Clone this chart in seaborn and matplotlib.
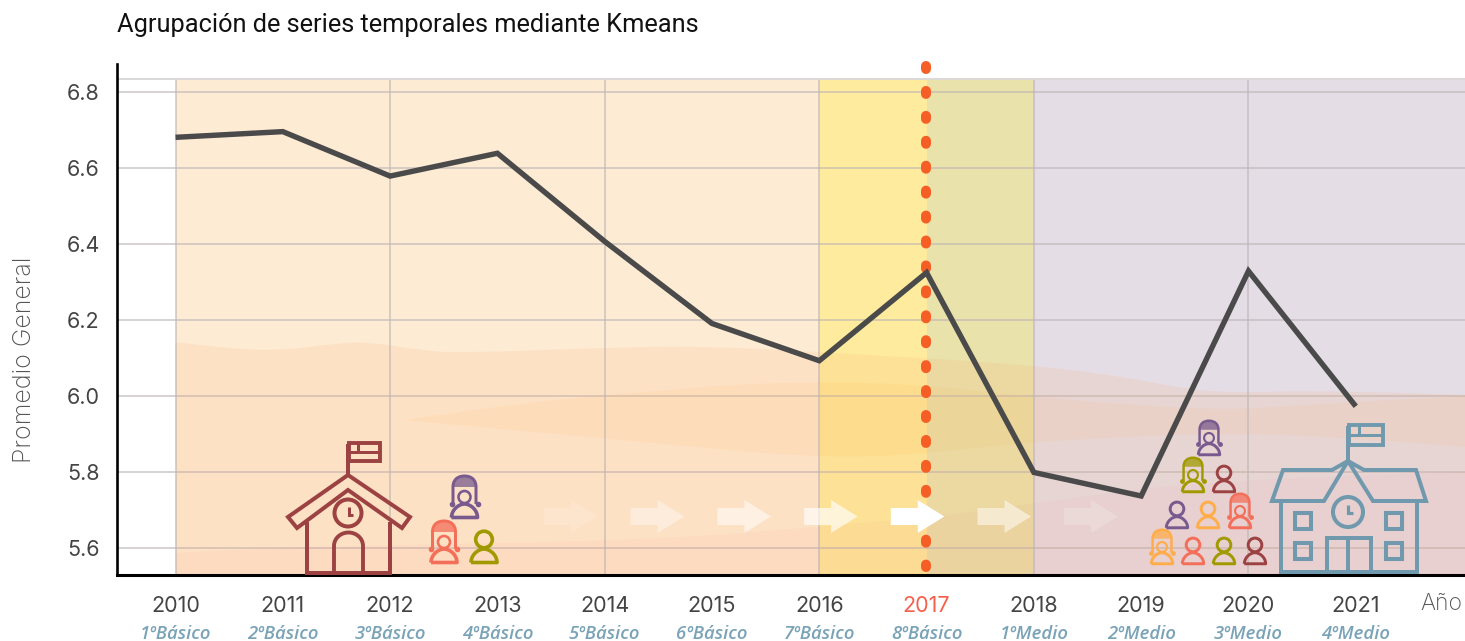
import numpy as np
import pandas as pd
import seaborn as sns
import matplotlib.pyplot as plt
from matplotlib.path import Path
from matplotlib.patches import PathPatch, Polygon, Circle, Rectangle

years = [2010, 2011, 2012, 2013, 2014, 2015, 2016, 2017, 2018, 2019, 2020, 2021]
promedio = [6.682, 6.697, 6.58, 6.64, 6.408, 6.192, 6.094, 6.326, 5.80, 5.738, 6.33, 5.974]
grades = ["1ºBásico", "2ºBásico", "3ºBásico", "4ºBásico", "5ºBásico", "6ºBásico",
          "7ºBásico", "8ºBásico", "1ºMedio", "2ºMedio", "3ºMedio", "4ºMedio"]
y_ticks = [5.6, 5.8, 6.0, 6.2, 6.4, 6.6, 6.8]

# background waves (year, grade)
wave1_x = [2010.0, 2010.41, 2010.97, 2011.53, 2011.81, 2012.28, 2012.65, 2013.96, 2014.89, 2016.01, 2018.0, 2018.9, 2019.36, 2019.83, 2020.76, 2022.02]
wave1_y = [6.143, 6.128, 6.12, 6.141, 6.143, 6.122, 6.114, 6.128, 6.133, 6.117, 6.083, 6.049, 6.022, 6.009, 6.017, 6.004]
wave2_top_x = [2012.12, 2013.21, 2014.42, 2015.54, 2016.75, 2018.0, 2018.9, 2019.83, 2020.48, 2022.02]
wave2_top_y = [5.938, 5.983, 6.014, 6.038, 6.036, 5.999, 5.978, 5.964, 5.978, 6.001]
wave2_low_x = [2012.12, 2014.42, 2015.82, 2016.75, 2017.68, 2018.61, 2019.83, 2020.95, 2022.02]
wave2_low_y = [5.938, 5.878, 5.841, 5.843, 5.872, 5.891, 5.904, 5.891, 5.867]
wave3_x = [2010.0, 2010.79, 2012.09, 2014.42, 2016.01, 2017.22, 2018.0, 2019.83, 2022.02]
wave3_y = [5.588, 5.601, 5.609, 5.622, 5.657, 5.688, 5.72, 5.786, 5.801]

TEXT = "#444444"
MAROON = "#9c4243"
PURPLE = "#795a8e"
RED = "#f46f5a"
OLIVE = "#a09a00"
ORANGE = "#ffad4a"
TEAL = "#7099ae"

sns.set_theme(style="white")
plt.rcParams["font.family"] = ["Inter", "DejaVu Sans"]

df = pd.DataFrame({"anio": years, "promedio": promedio})

fig = plt.figure(figsize=(14.65, 6.41), dpi=100)
ax = fig.add_axes([116.5 / 1465, (641 - 575) / 641, (1465 - 116.5) / 1465, (575 - 64) / 641])
ax.set_xlim(2009.45, 2022.018)
ax.set_ylim(5.530, 6.875)
TOP = 6.8355


def curve(xs, ys):
    # quadratic spline through the midpoints of the control points
    pts = list(zip(xs, ys))
    if len(pts) == 2:
        return pts[0], [pts[1]], [Path.LINETO]
    verts, codes = [], []
    for i in range(1, len(pts) - 1):
        end = pts[-1] if i == len(pts) - 2 else ((pts[i][0] + pts[i + 1][0]) / 2, (pts[i][1] + pts[i + 1][1]) / 2)
        verts += [pts[i], end]
        codes += [Path.CURVE3, Path.CURVE3]
    return pts[0], verts, codes


def wave(xs, ys, low_x, low_y, color, alpha):
    start, verts, codes = curve(xs, ys)
    v = [start] + verts
    c = [Path.MOVETO] + codes
    s2, v2, c2 = curve(low_x[::-1], low_y[::-1])
    v += [s2] + v2 + [start]
    c += [Path.LINETO] + c2 + [Path.CLOSEPOLY]
    ax.add_patch(PathPatch(Path(v, c), facecolor=color, edgecolor="none", alpha=alpha, zorder=1))


# coloured periods
top_frac = (TOP - 5.530) / (6.875 - 5.530)
ax.axvspan(2010, 2016, ymax=top_frac, color="#feebd4", lw=0, zorder=0)
ax.axvspan(2016, 2017, ymax=top_frac, color="#feeb9d", lw=0, zorder=0)
ax.axvspan(2017, 2018, ymax=top_frac, color="#e9e2aa", lw=0, zorder=0)
ax.axvspan(2018, 2022.018, ymax=top_frac, color="#e5dde6", lw=0, zorder=0)

wave(wave1_x, wave1_y, [2010.0, 2022.02], [5.53, 5.53], "#f9a66c", 0.14)
wave(wave2_top_x, wave2_top_y, wave2_low_x, wave2_low_y, "#ffb347", 0.09)
wave(wave3_x, wave3_y, [2010.0, 2022.02], [5.53, 5.53], "#f08080", 0.06)

sns.lineplot(data=df, x="anio", y="promedio", ax=ax, color="#4a4a4a", linewidth=3.9, zorder=4)
ax.lines[-1].set_solid_joinstyle("miter")
ax.lines[-1].set_solid_capstyle("butt")

ax.set_xticks(years)
ax.set_yticks(y_ticks)
ax.set_yticklabels(["%.1f" % v for v in y_ticks])
ax.grid(True, axis="y", color="#bdb5b5", alpha=0.6, linewidth=1.4)
ax.grid(False, axis="x")
ax.vlines(years[::2], 5.53, TOP, color="#bdb5b5", alpha=0.6, linewidth=1.4, zorder=1.5)
ax.axhline(TOP, color="#dcd8d8", linewidth=1.4, zorder=1.5)
ax.tick_params(axis="both", which="both", length=0)
ax.tick_params(axis="x", pad=15, labelsize=15.5, labelcolor=TEXT)
ax.tick_params(axis="y", pad=12, labelsize=15.5, labelcolor=TEXT)
ax.get_xticklabels()[years.index(2017)].set_color("#f4614d")
ax.set_xlabel("")
ax.set_ylabel("")

for s in ["top", "right"]:
    ax.spines[s].set_visible(False)
for s in ["left", "bottom"]:
    ax.spines[s].set_visible(True)
    ax.spines[s].set_color("black")
ax.spines["left"].set_linewidth(1.9)
ax.spines["bottom"].set_linewidth(2.2)

for yr, g in zip(years, grades):
    ax.annotate(g, (yr, 0), xycoords=("data", "axes fraction"), xytext=(0, -42.5), textcoords="offset points",
                ha="center", va="center", fontsize=13.3, style="italic", weight="semibold",
                color="#7aa3b8", family=["Open Sans", "DejaVu Sans"])

# overlay in pixels for the drawings and loose text
ov = fig.add_axes([0, 0, 1, 1], zorder=5)
ov.set_xlim(0, 1465)
ov.set_ylim(641, 0)
ov.axis("off")
ov.patch.set_alpha(0)

ov.text(117, 25, "Agrupación de series temporales mediante Kmeans", fontsize=18.3, color="#111111",
        va="center", ha="left", family=["Roboto", "DejaVu Sans"])
ov.text(25, 360, "Promedio General", rotation=90, fontsize=18, color="#555555", va="center", ha="center",
        weight="light")
ov.text(1441, 604, "Año", fontsize=16.5, color="#555555", va="center", ha="center", weight="light")

# dotted marker for 2017
ax.plot([2016.99, 2016.99], [6.8697, 5.551], color="#f55f25", linewidth=7.2, linestyle=(0, (0.3, 2.193)),
        dash_capstyle="round", clip_on=False, zorder=3)

# arrows
arrow_alpha = [0.15, 0.4, 0.5, 0.65, 1.0, 0.5, 0.2]
for i, al in enumerate(arrow_alpha):
    x0 = 544 + i * 86.7
    shape = [(x0, 508), (x0 + 27, 508), (x0 + 27, 500), (x0 + 53.5, 516.5), (x0 + 27, 533), (x0 + 27, 525), (x0, 525)]
    ov.add_patch(Polygon(shape, closed=True, facecolor="white", edgecolor="none", alpha=al))


def pline(points, color, lw=4.0, closed=False):
    ov.add_patch(Polygon(points, closed=closed, fill=False, edgecolor=color, linewidth=lw * 0.72, joinstyle="miter"))


def ring(x, y, r, color, lw=4.0):
    ov.add_patch(Circle((x, y), r, fill=False, edgecolor=color, linewidth=lw * 0.72))


def body(cx, base, s, color):
    w = 13 * s
    top = base - 15 * s
    b = base - 1.5 * s
    k = 6 * s
    path = Path([(cx - w, b), (cx - w, top + k), (cx - k, top), (cx, top), (cx + k, top), (cx + w, top + k), (cx + w, b), (cx - w, b)],
                [Path.MOVETO, Path.CURVE4, Path.CURVE4, Path.CURVE4, Path.CURVE4, Path.CURVE4, Path.CURVE4, Path.LINETO])
    ov.add_patch(PathPatch(path, fill=False, edgecolor=color, linewidth=3.6 * s * 0.72, joinstyle="round"))


def person(cx, base, color, s=1.0):
    body(cx, base, s, color)
    ring(cx, base - 24.5 * s, 8.3 * s, color, 3.6 * s)


def girl(cx, base, color, s=1.0):
    body(cx, base, s, color)
    ring(cx, base - 22 * s, 6 * s, color, 2.6 * s)
    w = 11.5 * s
    k = 7 * s
    low = base - 15 * s
    mid = base - 32 * s
    top = base - 43 * s
    hair = Path([(cx - w, low), (cx - w, mid), (cx - w, mid - k), (cx - k, top), (cx, top), (cx + k, top), (cx + w, mid - k), (cx + w, mid), (cx + w, low)],
                [Path.MOVETO, Path.LINETO, Path.CURVE4, Path.CURVE4, Path.CURVE4, Path.CURVE4, Path.CURVE4, Path.CURVE4, Path.LINETO])
    ov.add_patch(PathPatch(hair, fill=False, edgecolor=color, linewidth=3.0 * s * 0.72))
    cap = Path([(cx - w, mid), (cx - w, mid - k), (cx - k, top), (cx, top), (cx + k, top), (cx + w, mid - k), (cx + w, mid), (cx - w, mid)],
               [Path.MOVETO, Path.CURVE4, Path.CURVE4, Path.CURVE4, Path.CURVE4, Path.CURVE4, Path.CURVE4, Path.LINETO])
    ov.add_patch(PathPatch(cap, facecolor=color, edgecolor="none", alpha=0.75))
    ov.plot([cx - w - 1.5 * s, cx + w + 1.5 * s], [low, low], color=color, linewidth=0, marker="o", markersize=3 * s)


# first school
pline([(348, 475), (410, 517), (402, 528), (348, 490), (297, 528), (288, 517)], MAROON, closed=True)
pline([(307, 522), (307, 573), (390, 573), (390, 522)], MAROON)
door = Path([(334, 573), (334, 546), (334, 538), (341, 532.5), (348.5, 532.5), (356, 532.5), (363, 538), (363, 546), (363, 573)],
            [Path.MOVETO, Path.LINETO, Path.CURVE4, Path.CURVE4, Path.CURVE4, Path.CURVE4, Path.CURVE4, Path.CURVE4, Path.LINETO])
ov.add_patch(PathPatch(door, fill=False, edgecolor=MAROON, linewidth=2.8))
ring(348, 513, 13.5, MAROON)
pline([(349, 507), (349, 515), (353, 515)], MAROON, lw=3)
pline([(348, 475), (348, 444)], MAROON)
ov.add_patch(Rectangle((349, 443), 31, 18, fill=False, edgecolor=MAROON, linewidth=2.8))
pline([(349, 452), (380, 452)], MAROON, lw=3)
pline([(358, 443), (358, 452)], MAROON, lw=3)

girl(464.5, 519, PURPLE)
girl(444, 564, RED)
person(484, 564, OLIVE)

# crowd near the second school
s = 0.82
girl(1162, 565, ORANGE, s)
person(1193, 565, RED, s)
person(1224, 565, OLIVE, s)
person(1255, 565, MAROON, s)
person(1177, 529, PURPLE, s)
person(1208, 529, ORANGE, s)
girl(1240, 529, RED, s)
girl(1193, 493, OLIVE, s)
person(1224, 493, MAROON, s)
girl(1209, 456, PURPLE, s)

# second school
pline([(1272, 501), (1283, 470), (1332, 470), (1348, 461), (1364, 470), (1416, 470), (1426, 501), (1373, 501),
       (1348, 461), (1324, 501)], TEAL, closed=True)
pline([(1281, 501), (1281, 572), (1417, 572), (1417, 501)], TEAL)
ring(1348, 512, 15, TEAL)
pline([(1348, 505), (1348, 513), (1353, 513)], TEAL, lw=3.2)
pline([(1348, 461), (1348, 426)], TEAL)
ov.add_patch(Rectangle((1349, 425), 34, 19.5, fill=False, edgecolor=TEAL, linewidth=2.8))
pline([(1349, 435), (1383, 435)], TEAL, lw=3)
pline([(1359, 425), (1359, 435)], TEAL, lw=3)
for wx in [1295, 1386]:
    for wy in [513, 543]:
        ov.add_patch(Rectangle((wx, wy), 16, 16, fill=False, edgecolor=TEAL, linewidth=2.9))
pline([(1326.5, 572), (1326.5, 537.5), (1371, 537.5), (1371, 572)], TEAL)
pline([(1348, 537), (1348, 572)], TEAL)

fig.savefig("out.png", dpi=100)
